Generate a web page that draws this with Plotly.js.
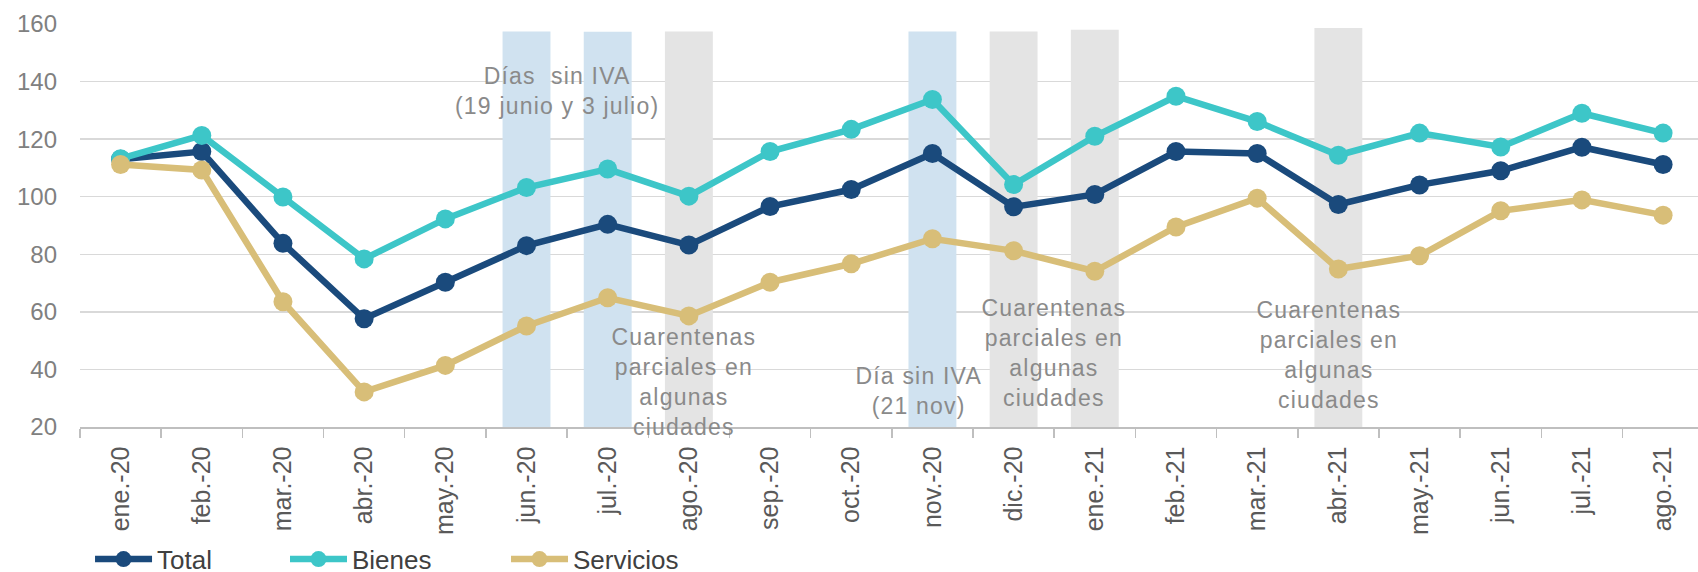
<!DOCTYPE html>
<html>
<head>
<meta charset="utf-8">
<script src="https://cdn.plot.ly/plotly-3.0.1.min.js"></script>
<style>
  html, body { margin: 0; padding: 0; background: #ffffff; }
  #chart { width: 1698px; height: 572px; }
  #chart .annotation-text { letter-spacing: 1.2px; }
</style>
</head>
<body>
<div id="chart"></div>
<script>
// ---- data ----
const months = ['ene.-20','feb.-20','mar.-20','abr.-20','may.-20','jun.-20','jul.-20','ago.-20','sep.-20','oct.-20','nov.-20','dic.-20',
                'ene.-21','feb.-21','mar.-21','abr.-21','may.-21','jun.-21','jul.-21','ago.-21'];
const total     = [113.0, 115.7, 83.8, 57.6, 70.3, 83.0, 90.4, 83.2, 96.6, 102.5, 115.0, 96.5, 100.8, 115.7, 115.0, 97.3, 104.1, 109.0, 117.2, 111.2];
const bienes    = [113.2, 121.3, 99.9, 78.4, 92.3, 103.2, 109.6, 100.2, 115.7, 123.4, 133.8, 104.2, 121.0, 134.9, 126.1, 114.4, 122.1, 117.3, 129.0, 122.1];
const servicios = [111.2, 109.3, 63.5, 32.2, 41.4, 55.1, 64.9, 58.6, 70.3, 76.7, 85.4, 81.2, 74.1, 89.5, 99.5, 74.9, 79.5, 95.1, 98.9, 93.6];

// shaded periods (Días sin IVA = blue, Cuarentenas parciales = gray)
const blueBandMonths = ['jun.-20','jul.-20','nov.-20'];
const blueBandTop    = [157.4, 157.3, 157.4];
const grayBandMonths = ['ago.-20','dic.-20','ene.-21','abr.-21'];
const grayBandTop    = [157.4, 157.4, 158.0, 158.6];
const bandBase = 20;

const seriesNames = ['Total','Bienes','Servicios'];
const seriesColors = ['#1a4a7c','#3dc6c8','#d8be78'];

const notes = [
  {text: 'Días  sin IVA<br>(19 junio y 3 julio)', x: 5.38, y: 136.6},
  {text: 'Cuarentenas<br>parciales en<br>algunas<br>ciudades', x: 6.94, y: 35.6},
  {text: 'Día sin IVA<br>(21 nov)', x: 9.84, y: 32.5},
  {text: 'Cuarentenas<br>parciales en<br>algunas<br>ciudades', x: 11.5, y: 45.8},
  {text: 'Cuarentenas<br>parciales en<br>algunas<br>ciudades', x: 14.89, y: 44.9}
];

const yTicks = [20,40,60,80,100,120,140,160];

// ---- traces ----
const FONT = 'Liberation Sans, Arial, sans-serif';
const traces = [];
traces.push({
  type: 'bar', x: blueBandMonths, y: blueBandTop.map(v => v - bandBase), base: bandBase,
  width: 0.59, marker: {color: '#d0e2f0', line: {width: 0}}, showlegend: false, hoverinfo: 'skip'
});
traces.push({
  type: 'bar', x: grayBandMonths, y: grayBandTop.map(v => v - bandBase), base: bandBase,
  width: 0.59, marker: {color: '#e4e4e4', line: {width: 0}}, showlegend: false, hoverinfo: 'skip'
});
const seriesData = [total, bienes, servicios];
const legendIds = ['legend','legend2','legend3'];
seriesData.forEach((vals, i) => {
  traces.push({
    type: 'scatter', mode: 'lines+markers', x: months, y: vals, name: seriesNames[i],
    line: {color: seriesColors[i], width: 6.5},
    marker: {color: seriesColors[i], size: 19},
    legend: legendIds[i]
  });
});

// ---- layout ----
const legendBase = {
  orientation: 'h', yanchor: 'middle', y: -0.328, xanchor: 'left',
  font: {family: FONT, size: 26, color: '#404040'},
  bgcolor: 'rgba(0,0,0,0)', borderwidth: 0, itemwidth: 57
};
const layout = {
  width: 1698, height: 572,
  margin: {l: 80, r: 0, t: 24, b: 145, pad: 0, autoexpand: false},
  paper_bgcolor: '#ffffff', plot_bgcolor: '#ffffff',
  barmode: 'overlay',
  xaxis: {
    type: 'category', categoryorder: 'array', categoryarray: months,
    range: [-0.5, 19.43], tickson: 'boundaries',
    ticks: 'outside', ticklen: 9, tickwidth: 1.5, tickcolor: '#bfbfbf',
    showline: true, linecolor: '#bfbfbf', linewidth: 1.5,
    showgrid: false, zeroline: false,
    tickangle: -90, ticklabelstandoff: 8,
    tickfont: {family: FONT, size: 25, color: '#595959'}
  },
  yaxis: {
    range: [20, 160], tickvals: yTicks, ticktext: yTicks.map(String),
    showgrid: true, gridcolor: '#d9d9d9', gridwidth: 1.5,
    zeroline: false, showline: false, ticks: '', ticklabelstandoff: 22,
    tickfont: {family: FONT, size: 24, color: '#808080'}
  },
  legend:  Object.assign({}, legendBase, {x: 0.0062}),
  legend2: Object.assign({}, legendBase, {x: 0.1267}),
  legend3: Object.assign({}, legendBase, {x: 0.2633}),
  annotations: notes.map(n => ({
    xref: 'x', yref: 'y', x: n.x, y: n.y, text: n.text, showarrow: false,
    xanchor: 'center', yanchor: 'middle', align: 'center',
    font: {family: FONT, size: 23, color: '#8a8a8a'}
  })),
  showlegend: true
};

Plotly.newPlot('chart', traces, layout, {staticPlot: true, displayModeBar: false});
</script>
</body>
</html>
